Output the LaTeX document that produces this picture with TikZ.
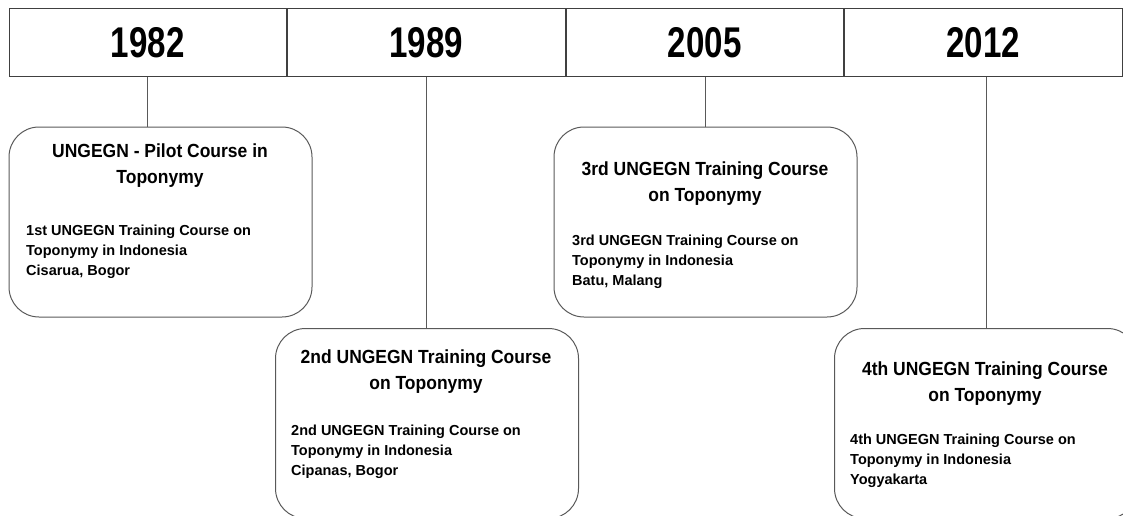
\documentclass[tikz,border=0pt]{standalone}
\usepackage{fontspec}
\setmainfont{Liberation Sans}
\newfontfamily\yearfont{Liberation Sans}[FakeStretch=0.77]
\newfontfamily\headfont{Liberation Sans}[FakeStretch=0.92]
\usetikzlibrary{positioning}

\begin{document}
\begin{tikzpicture}[x=1pt, y=-1pt,
  yearcell/.style={rectangle, draw=black!75, line width=1pt, minimum width=277.5pt, minimum height=68pt, inner sep=0pt, font=\yearfont\bfseries\fontsize{43}{43}\selectfont},
  eventbox/.style={rectangle, rounded corners=30pt, draw=black!65, line width=1pt, minimum width=303pt, minimum height=190pt},
  eventtitle/.style={align=center, inner sep=0pt, anchor=base, font=\headfont\bfseries\fontsize{19}{26}\selectfont},
  eventtext/.style={align=left, inner sep=0pt, anchor=base west, font=\bfseries\fontsize{14.5}{20}\selectfont},
  link/.style={draw=black!65, line width=1pt}]

        \useasboundingbox (0,0) rectangle (1123,516);
        \clip (0,0) rectangle (1123,516);

        % year bar
        \node[yearcell] (y1) at (147.75,43) {1982};
        \node[yearcell] (y2) [right=0pt of y1] {1989};
        \node[yearcell] (y3) [right=0pt of y2] {2005};
        \node[yearcell] (y4) [right=0pt of y3] {2012};

        % events (text placed at the baseline of its last line)
        \node[eventbox] (b1) at (160.5,222) {};
        \node[eventbox] (b2) at (427,423.5) {};
        \node[eventbox] (b3) at (705.5,222) {};
        \node[eventbox] (b4) at (986,423.5) {};

        \node[eventtitle] (t1) at (160,183) {UNGEGN - Pilot Course in\\Toponymy};
        \node[eventtext] (d1) at (26,275) {1st UNGEGN Training Course on\\Toponymy in Indonesia\\Cisarua, Bogor};

        \node[eventtitle] (t2) at (426,389) {2nd UNGEGN Training Course\\on Toponymy};
        \node[eventtext] (d2) at (291,475) {2nd UNGEGN Training Course on\\Toponymy in Indonesia\\Cipanas, Bogor};

        \node[eventtitle] (t3) at (705,201) {3rd UNGEGN Training Course\\on Toponymy};
        \node[eventtext] (d3) at (572,285) {3rd UNGEGN Training Course on\\Toponymy in Indonesia\\Batu, Malang};

        \node[eventtitle] (t4) at (985,401) {4th UNGEGN Training Course\\on Toponymy};
        \node[eventtext] (d4) at (850,484) {4th UNGEGN Training Course on\\Toponymy in Indonesia\\Yogyakarta};

        % links from years to events
        \draw[link] (y1.south) -- (y1.south |- b1.north);
        \draw[link] (y2.south) -- (y2.south |- b2.north);
        \draw[link] (b3.north) -- (b3.north |- y3.south);
        \draw[link] (b4.north) -- (b4.north |- y4.south);

\end{tikzpicture}
\end{document}
